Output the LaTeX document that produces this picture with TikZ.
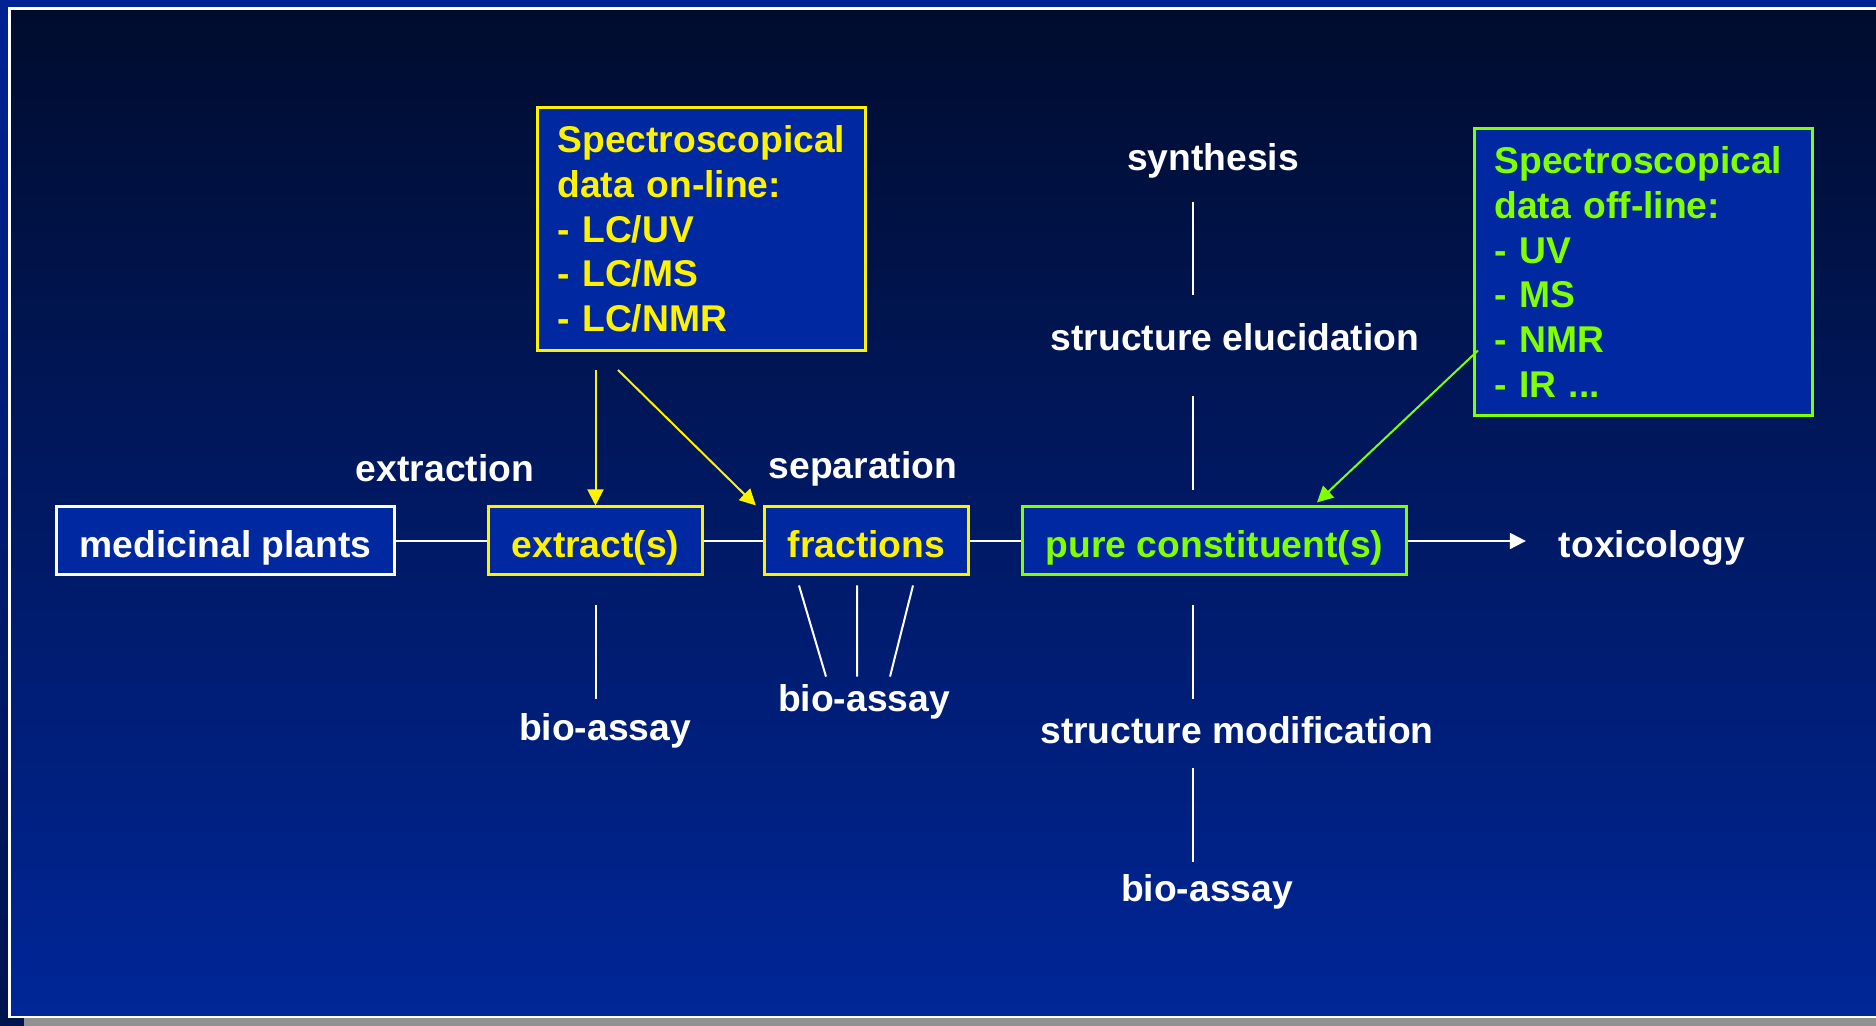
\documentclass[tikz,border=0pt]{standalone}
\usepackage{fontspec}
\setmainfont{Liberation Sans}
\usetikzlibrary{arrows.meta}
\definecolor{bgtop}{RGB}{0,12,46}
\definecolor{bgbottom}{RGB}{0,38,152}
\definecolor{boxblue}{RGB}{0,40,160}
\definecolor{stripblue}{RGB}{0,34,146}
\definecolor{stripdark}{RGB}{0,20,80}
\definecolor{stripgray}{RGB}{145,145,145}
\definecolor{offgreen}{RGB}{128,255,0}
\tikzset{every picture/.style = {line width=0.02cm}}
\tikzset{every node/.style = {font=\bfseries\fontsize{10.6pt}{12.7pt}\selectfont}}
\tikzset{txt/.style = {text=white, inner sep=0}}
\tikzset{stage/.style = {draw=#1, text=#1, fill=boxblue, line width=0.03cm, minimum height=0.68cm, inner xsep=0.235cm, inner ysep=0, text height=0.41cm, text depth=0.08cm}}
\tikzset{databox/.style = {draw=#1, text=#1, fill=boxblue, line width=0.03cm, align=left, anchor=north west, inner xsep=0.2cm, inner ysep=0}}
\tikzset{link/.style = {white}}
\tikzset{arrowed/.style = {-{Triangle[length=0.16cm, width=0.16cm]}}}

\begin{document}
\begin{tikzpicture}
  \useasboundingbox (0,0) rectangle (18.76,10.26);
  \fill[stripblue] (0,10.19) rectangle (18.76,10.26);
  \shade[top color=stripblue, bottom color=stripdark] (0,0) rectangle (0.09,10.26);
  \fill[stripdark] (0,0) rectangle (0.24,0.08);
  \fill[stripgray] (0.24,0) rectangle (18.76,0.075);
  \shade[top color=bgtop, bottom color=bgbottom] (0.09,0.09) rectangle (18.76,10.18);
  \draw[white, line width=0.025cm] (18.76,10.175) -- (0.095,10.175) -- (0.095,0.09) -- (18.76,0.09);

  \node[stage=white] (plants) at (2.255, 4.85) {medicinal plants};
  \node[stage=yellow] (ext) at (5.955, 4.85) {extract(s)};
  \node[stage=yellow] (frac) at (8.665, 4.85) {fractions};
  \node[stage=offgreen] (pure) at (12.145, 4.85) {pure constituent(s)};
  \node[txt] (tox) at (16.52, 4.785) {toxicology};

  \node[txt] (extr) at (4.45, 5.58) {extraction};
  \node[txt] (sep) at (8.63, 5.575) {separation};
  \node[txt] (synth) at (12.13, 8.655) {synthesis};
  \node[txt] (eluc) at (12.35, 6.89) {structure elucidation};
  \node[txt] (modif) at (12.37, 2.96) {structure modification};
  \node[txt] (bioext) at (6.05, 2.955) {bio-assay};
  \node[txt] (biofrac) at (8.64, 3.245) {bio-assay};
  \node[txt] (biopure) at (12.07, 1.345) {bio-assay};

  \node[databox=yellow, text width=2.88cm, minimum height=2.43cm] (online) at (5.36, 9.20)
    {Spectroscopical\\data on-line:\\- LC/UV\\- LC/MS\\- LC/NMR};
  \node[databox=offgreen, text width=2.98cm, minimum height=2.87cm] (offline) at (14.73, 8.99)
    {Spectroscopical\\data off-line:\\- UV\\- MS\\- NMR\\- IR ...};

  \coordinate (col) at (11.93, 0);
  \draw[link] (plants) -- (ext);
  \draw[link] (ext) -- (frac);
  \draw[link] (frac) -- (pure);
  \draw[link, arrowed, shorten >=0.32cm] (pure.east) -- (pure.east -| tox.west);

  \draw[link, shorten <=0.23cm, shorten >=0.275cm] (synth.south -| col) -- (eluc.north -| col);
  \draw[link, shorten <=0.445cm, shorten >=0.15cm] (eluc.south -| col) -- (pure.north -| col);
  \draw[link, shorten <=0.29cm, shorten >=0.165cm] (pure.south -| col) -- (modif.north -| col);
  \draw[link, shorten <=0.235cm, shorten >=0.11cm] (modif.south -| col) -- (biopure.north -| col);
  \draw[link, shorten <=0.29cm, shorten >=0.13cm] (ext.south) -- (bioext.north -| ext.south);
  \foreach \a/\b in {-0.675/-0.38, -0.095/-0.07, 0.465/0.26}
    \draw[link] ([xshift=\a cm, yshift=-0.09cm]frac.south) -- ([xshift=\b cm, yshift=0.065cm]biofrac.north);

  \draw[yellow, arrowed, shorten <=0.18cm] (online.south -| ext.north) -- (ext.north);
  \draw[yellow, arrowed] ([xshift=0.82cm, yshift=-0.18cm]online.south west) -- ([xshift=-0.07cm]frac.north west);
  \draw[offgreen, arrowed] ([xshift=0.05cm, yshift=-0.785cm]offline.west) -- ([xshift=1.025cm, yshift=0.03cm]pure.north);
\end{tikzpicture}
\end{document}
